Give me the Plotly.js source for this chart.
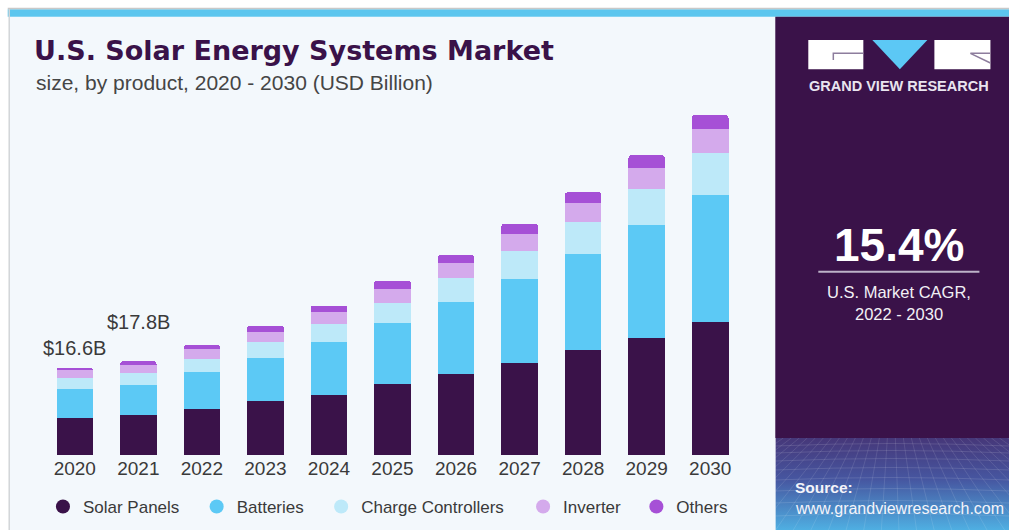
<!DOCTYPE html>
<html>
<head>
<meta charset="utf-8">
<script src="https://cdn.plot.ly/plotly-3.0.1.min.js"></script>
<style>html,body{margin:0;padding:0;background:#fff;}#chart{width:1009px;height:530px;}</style>
</head>
<body>
<div id="chart"></div>
<script>
// ---------- data ----------
const years = ['2020','2021','2022','2023','2024','2025','2026','2027','2028','2029','2030'];
const seriesNames = ['Solar Panels','Batteries','Charge Controllers','Inverter','Others'];
const solarPanels       = [7.12, 7.57, 8.74, 10.26, 11.46, 13.43, 15.45, 17.48, 19.95, 22.29, 25.27];
const batteries         = [5.47, 5.81, 7.03, 8.11, 9.96, 11.59, 13.57, 16.02, 18.24, 21.36, 24.19];
const chargeControllers = [1.97, 2.20, 2.53, 3.10, 3.48, 3.91, 4.56, 5.26, 6.02, 6.84, 7.87];
const inverter          = [1.53, 1.46, 1.79, 1.96, 2.34, 2.60, 2.96, 3.17, 3.72, 4.05, 4.62];
const others            = [0.51, 0.76, 0.76, 1.14, 1.14, 1.58, 1.46, 1.96, 1.98, 2.41, 2.66];
const labelYears = ['2020','2021'];
const labelTexts = ['$16.6B','$17.8B'];
const cagrValue = '15.4%';
const cagrText = ['U.S. Market CAGR,','2022 - 2030'];

// ---------- styling ----------
const colors = ['#3a1249','#5cc9f5','#bde9f9','#d4aaec','#a650d6'];
const W = 1009, H = 530;
const M = {l:43.25, r:267.25, t:105, b:75};
const PW = W - M.l - M.r, PH = H - M.t - M.b;
const X = px => (px - M.l) / PW;
const Y = py => (H - M.b - py) / PH;
const FONT = 'Liberation Sans, Arial, sans-serif';
const legendX = [43.2, 196.8, 321.2, 523, 636.2];

const values = [solarPanels, batteries, chargeControllers, inverter, others];
const totals = years.map((_, i) => values.reduce((s, arr) => s + arr[i], 0));
const legendIds = values.map((_, k) => k === 0 ? 'legend' : 'legend' + (k + 1));

const traces = [];
values.forEach((arr, k) => {
  traces.push({
    type:'bar', x: years, y: arr, name: seriesNames[k],
    marker:{color: colors[k], line:{width:0}},
    showlegend:false, hoverinfo:'skip'
  });
});
values.forEach((arr, k) => {
  traces.push({
    type:'scatter', mode:'markers', x:[years[0]], y:[null], name: seriesNames[k],
    marker:{color: colors[k], size:14, symbol:'circle'},
    showlegend:true, legend: legendIds[k], hoverinfo:'skip'
  });
});

// gradient "source" box
let grid = '';
[8,15,23,32,42,53,65,78].forEach(y => { grid += `<path d='M0 ${y} Q117 ${y-5} 234 ${y}' stroke='white' stroke-opacity='0.16' stroke-width='0.8' fill='none'/>`; });
for (let i = -6; i <= 32; i++) { const x0 = i*8; const x1 = 117 + (x0-117)*2.2; grid += `<line x1='${x0}' y1='0' x2='${x1}' y2='92' stroke='white' stroke-opacity='0.14' stroke-width='0.8'/>`; }
const svg = `<svg xmlns='http://www.w3.org/2000/svg' width='234' height='92' viewBox='0 0 234 92' preserveAspectRatio='none'><defs><linearGradient id='g' x1='0' y1='0' x2='0' y2='1'><stop offset='0' stop-color='#463779'/><stop offset='0.45' stop-color='#4656a0'/><stop offset='1' stop-color='#4fafe2'/></linearGradient></defs><rect width='234' height='92' fill='url(#g)'/>${grid}</svg>`;

const rect = (x0,y0,x1,y1,fill,layer) => ({type:'rect', xref:'paper', yref:'paper', x0:X(x0), x1:X(x1), y0:Y(y1), y1:Y(y0), fillcolor:fill, line:{width:0}, layer: layer||'below'});
const line = (x0,y0,x1,y1,color,w) => ({type:'line', xref:'paper', yref:'paper', x0:X(x0), x1:X(x1), y0:Y(y0), y1:Y(y1), line:{color:color, width:w}, layer:'above'});
const path = (pts, fill, lc, lw) => ({type:'path', xref:'paper', yref:'paper',
  path: pts.map((p,i) => (i?'L':'M') + X(p[0]) + ',' + Y(p[1])).join(' ') + (fill ? ' Z' : ''),
  fillcolor: fill || 'rgba(0,0,0,0)', line:{color: lc || 'rgba(0,0,0,0)', width: lw || 0}, layer:'above'});

const shapes = [
  rect(10,16.5,775,530,'#f3f8fc'),
  line(9.5,9,9.5,530,'#d2d5d8',1.5),
  line(8,8.5,1009,8.5,'#c8c8c8',1.5),
  rect(8,9.3,1009,16.7,'#5cc6ee'),
  rect(775,16.7,1009,438,'#3a1249'),
  // logo
  rect(808,40,863,69.3,'#ffffff','above'),
  path([[872,40],[927,40],[899.5,69.3]], '#5cc8f5'),
  rect(934,40,990,69.3,'#ffffff','above'),
  path([[863,53.3],[833,53.3],[833,60]], null, '#8d7d9d', 1.5),
  path([[990,53.3],[970,53.3],[990,63]], null, '#8d7d9d', 1.5),
  // CAGR separator
  line(818,271.7,979,271.7,'#bdb2c8',2)
];

const ann = (text, px, py, size, color, opts) => Object.assign({
  text, xref:'paper', yref:'paper', x:X(px), y:Y(py), showarrow:false,
  xanchor:'left', yanchor:'middle', font:{family:FONT, size, color}
}, opts || {});

const annotations = [
  ann('size, by product, 2020 - 2030 (USD Billion)', 34, 83, 21, '#454545'),
  ann('GRAND VIEW RESEARCH', 899, 86, 14, '#e9e5ef', {xanchor:'center', font:{family:FONT, size:14.5, color:'#e9e5ef', weight:'bold'}}),
  ann(cagrValue, 899, 245, 46, '#ffffff', {xanchor:'center', font:{family:FONT, size:46, color:'#ffffff', weight:'bold'}}),
  ann(cagrText[0], 899, 291.7, 16.5, '#f2f0f5', {xanchor:'center'}),
  ann(cagrText[1], 899, 314, 16.5, '#f2f0f5', {xanchor:'center'}),
  ann('Source:', 793, 487.5, 15.5, '#f4f4fa', {font:{family:FONT, size:15.5, color:'#f4f4fa', weight:'bold'}}),
  ann('www.grandviewresearch.com', 793, 508, 16, '#f4f4fa')
];
const labelShift = [20, 39];
labelYears.forEach((yr, i) => {
  const idx = years.indexOf(yr);
  annotations.push({
    text: labelTexts[i], xref:'x', yref:'y', x: idx, y: totals[idx], yshift: labelShift[i],
    showarrow:false, xanchor:'center', yanchor:'middle',
    font:{family:FONT, size:20, color:'#3a3a3a'}
  });
});

const layout = {
  width:W, height:H, autosize:false,
  margin:{l:M.l, r:M.r, t:M.t, b:M.b, pad:0, autoexpand:false},
  paper_bgcolor:'#ffffff', plot_bgcolor:'rgba(0,0,0,0)',
  barmode:'stack', bargap:0.425, barcornerradius:3,
  hovermode:false, showlegend:true,
  font:{family:FONT, color:'#3a3a3a'},
  title:{text:'U.S. Solar Energy Systems Market', xref:'container', yref:'container',
    x:34/W, xanchor:'left', y:1-51/H, yanchor:'middle',
    font:{family:'DejaVu Sans, Liberation Sans, sans-serif', size:27, color:'#3a1249', weight:'bold'}},
  xaxis:{type:'category', range:[-0.5, 10.5], fixedrange:true, showgrid:false, zeroline:false,
    showline:false, ticks:'', tickfont:{family:FONT, size:19, color:'#3a3a3a'}, automargin:false},
  yaxis:{range:[0, 66.5], visible:false, fixedrange:true, automargin:false},
  shapes, annotations,
  images:[{source:'data:image/svg+xml;charset=utf-8,' + encodeURIComponent(svg), xref:'paper', yref:'paper',
    x:X(775), y:Y(438), sizex:(W-775)/PW, sizey:(530-438)/PH, xanchor:'left', yanchor:'top',
    sizing:'stretch', layer:'below'}]
};
legendIds.forEach((id, k) => {
  layout[id] = {orientation:'h', x:X(legendX[k]), xanchor:'left', y:Y(507), yanchor:'middle',
    font:{family:FONT, size:17, color:'#3a3a3a'}, bgcolor:'rgba(0,0,0,0)', borderwidth:0};
});

Plotly.newPlot('chart', traces, layout, {displayModeBar:false, staticPlot:true});
</script>
</body>
</html>
